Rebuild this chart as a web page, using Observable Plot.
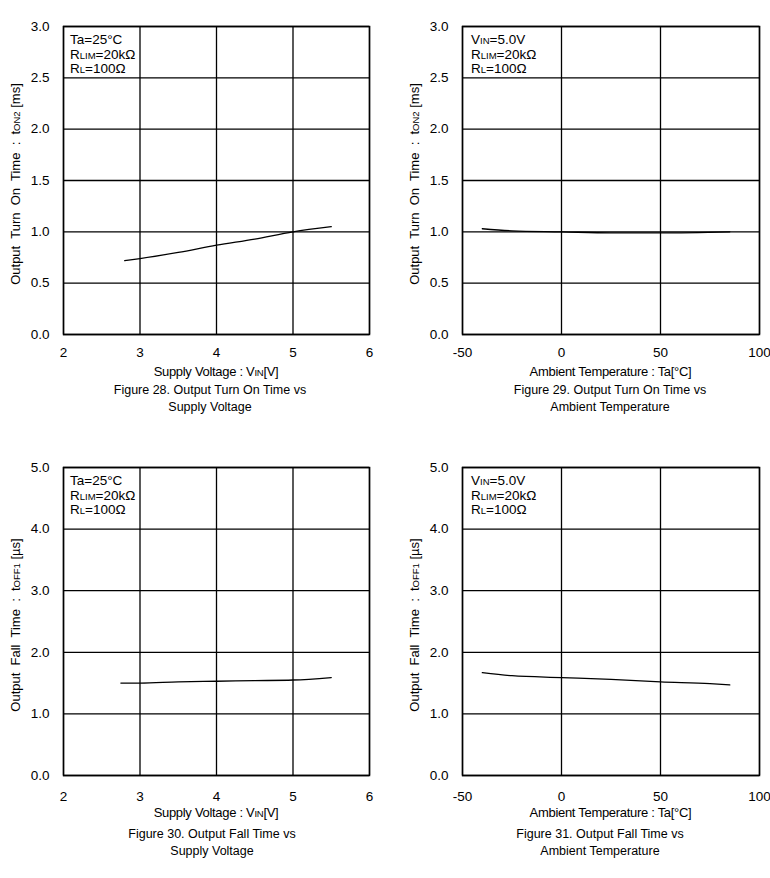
<!DOCTYPE html>
<html>
<head>
<meta charset="utf-8">
<script src="https://cdn.jsdelivr.net/npm/d3@7"></script>
<script src="https://cdn.jsdelivr.net/npm/@observablehq/plot@0.6"></script>
<style>
  body { margin: 0; background: #fff; font-family: "Liberation Sans", Arial, sans-serif; }
  #page { position: relative; width: 770px; height: 878px; overflow: hidden; }
  .panel { position: absolute; }
  .caption { position: absolute; text-align: center; font-size: 12.5px; line-height: 16.5px; color: #000; white-space: nowrap; }
</style>
</head>
<body>
<div id="page"></div>
<script>
// Turn-on time tON2 [ms] vs supply voltage (Ta=25°C)
const vinOn = [2.8, 3.0, 3.5, 4.0, 4.5, 5.0, 5.5];
const tOn2VsVin = [0.72, 0.74, 0.80, 0.87, 0.93, 1.00, 1.05];
// Turn-on time tON2 [ms] vs ambient temperature (VIN=5.0V)
const tempOn = [-40, -25, 0, 25, 50, 85];
const tOn2VsTemp = [1.03, 1.01, 1.00, 0.99, 0.99, 1.00];
// Fall time tOFF1 [µs] vs supply voltage (Ta=25°C)
const vinOff = [2.75, 3.0, 3.5, 4.0, 4.5, 5.0, 5.5];
const tOff1VsVin = [1.50, 1.50, 1.52, 1.53, 1.54, 1.55, 1.59];
// Fall time tOFF1 [µs] vs ambient temperature (VIN=5.0V)
const tempOff = [-40, -25, 0, 25, 50, 75, 85];
const tOff1VsTemp = [1.67, 1.62, 1.59, 1.56, 1.52, 1.49, 1.47];

// Axis ticks
const vinTicks = [2, 3, 4, 5, 6];
const tempTicks = [-50, 0, 50, 100];
const onTicks = [0, 0.5, 1.0, 1.5, 2.0, 2.5, 3.0];
const offTicks = [0, 1, 2, 3, 4, 5];

// Condition notes: [text, isSubscript]
const noteVinSweep = [
  [["Ta=25°C", false]],
  [["R", false], ["LIM", true], ["=20kΩ", false]],
  [["R", false], ["L", true], ["=100Ω", false]]
];
const noteTempSweep = [
  [["V", false], ["IN", true], ["=5.0V", false]],
  [["R", false], ["LIM", true], ["=20kΩ", false]],
  [["R", false], ["L", true], ["=100Ω", false]]
];
const labelVin = [["Supply Voltage : V", false], ["IN", true], ["[V]", false]];
const labelTemp = [["Ambient Temperature : Ta[°C]", false]];
const labelOn = [["Output  Turn  On  Time  :  t", false], ["ON2", true], [" [ms]", false]];
const labelOff = [["Output  Fall  Time  :  t", false], ["OFF1", true], [" [µs]", false]];

const FONT = "'Liberation Sans', Arial, sans-serif";
const page = document.getElementById("page");

function rich(textSel, parts, size, subSize) {
  parts.forEach(([t, sub]) => textSel.append("tspan").attr("font-size", sub ? subSize : size).text(t));
}

function panel(cfg) {
  const data = cfg.x.map((v, i) => ({x: v, y: cfg.y[i]}));
  const plotW = cfg.frameRight - cfg.frameLeft;
  const plotH = 308;
  const marginTop = cfg.marginTop;
  const marginBottom = 50;
  const plot = Plot.plot({
    width: cfg.width,
    height: marginTop + plotH + marginBottom,
    marginLeft: cfg.frameLeft,
    marginRight: cfg.width - cfg.frameRight,
    marginTop,
    marginBottom,
    style: {fontFamily: FONT, fontSize: "13.5px", color: "#000", background: "transparent"},
    x: {domain: cfg.xDomain},
    y: {domain: cfg.yDomain},
    marks: [
      Plot.gridX(cfg.xTicks, {stroke: "#000", strokeOpacity: 1, strokeWidth: 1.3}),
      Plot.gridY(cfg.yTicks, {stroke: "#000", strokeOpacity: 1, strokeWidth: 1.3}),
      Plot.frame({stroke: "#000", strokeWidth: 1.5}),
      Plot.axisX(cfg.xTicks, {tickSize: 0, tickPadding: cfg.xTickPad, label: null, tickFormat: d => String(d)}),
      Plot.axisY(cfg.yTicks, {tickSize: 0, tickPadding: 14, label: null, tickFormat: d3.format(".1f")}),
      Plot.line(data, {x: "x", y: "y", stroke: "#000", strokeWidth: 1.3, curve: "monotone-x"})
    ]
  });
  const svg = d3.select(plot);
  // condition note inside the frame
  cfg.note.forEach((line, i) => {
    const t = svg.append("text")
      .attr("x", cfg.frameLeft + cfg.noteDx)
      .attr("y", marginTop + 18 + i * 14.5)
      .attr("text-anchor", "start")
      .attr("font-family", FONT).attr("fill", "#000");
    rich(t, line, 13.5, 9.5);
  });
  // x-axis label
  const xl = svg.append("text")
    .attr("x", cfg.frameLeft + plotW / 2)
    .attr("y", marginTop + plotH + 42)
    .attr("text-anchor", "middle")
    .attr("font-family", FONT).attr("fill", "#000")
    .attr("letter-spacing", "-0.3px");
  rich(xl, cfg.xLabel, 13, 9.5);
  // y-axis label
  const yl = svg.append("text")
    .attr("transform", `translate(${cfg.yLabelX},${marginTop + plotH / 2 + 4}) rotate(-90)`)
    .attr("text-anchor", "middle")
    .attr("font-family", FONT).attr("fill", "#000");
  rich(yl, cfg.yLabel, 13, 9.5);

  const wrap = document.createElement("div");
  wrap.className = "panel";
  wrap.style.left = cfg.left + "px";
  wrap.style.top = cfg.top + "px";
  wrap.appendChild(plot);
  page.appendChild(wrap);

  const cap = document.createElement("div");
  cap.className = "caption";
  cap.style.left = (cfg.captionX - 150) + "px";
  cap.style.width = "300px";
  cap.style.top = cfg.captionTop + "px";
  cap.innerHTML = cfg.caption.join("<br>");
  page.appendChild(cap);
}

panel({
  x: vinOn, y: tOn2VsVin, xDomain: [2, 6], yDomain: [0, 3], xTicks: vinTicks, yTicks: onTicks,
  left: 0, top: 0, width: 385, frameLeft: 63, frameRight: 369, marginTop: 26, xTickPad: 13,
  note: noteVinSweep, noteDx: 7, xLabel: labelVin, yLabel: labelOn, yLabelX: 20,
  caption: ["Figure 28. Output Turn On Time vs", "Supply Voltage"], captionX: 210, captionTop: 382
});
panel({
  x: tempOn, y: tOn2VsTemp, xDomain: [-50, 100], yDomain: [0, 3], xTicks: tempTicks, yTicks: onTicks,
  left: 385, top: 0, width: 385, frameLeft: 77, frameRight: 374, marginTop: 26, xTickPad: 13,
  note: noteTempSweep, noteDx: 9, xLabel: labelTemp, yLabel: labelOn, yLabelX: 34,
  caption: ["Figure 29. Output Turn On Time vs", "Ambient Temperature"], captionX: 610, captionTop: 382
});
panel({
  x: vinOff, y: tOff1VsVin, xDomain: [2, 6], yDomain: [0, 5], xTicks: vinTicks, yTicks: offTicks,
  left: 0, top: 440, width: 385, frameLeft: 63, frameRight: 369, marginTop: 27, xTickPad: 16,
  note: noteVinSweep, noteDx: 7, xLabel: labelVin, yLabel: labelOff, yLabelX: 20,
  caption: ["Figure 30. Output Fall Time vs", "Supply Voltage"], captionX: 212, captionTop: 826
});
panel({
  x: tempOff, y: tOff1VsTemp, xDomain: [-50, 100], yDomain: [0, 5], xTicks: tempTicks, yTicks: offTicks,
  left: 385, top: 440, width: 385, frameLeft: 77, frameRight: 374, marginTop: 27, xTickPad: 16,
  note: noteTempSweep, noteDx: 9, xLabel: labelTemp, yLabel: labelOff, yLabelX: 34,
  caption: ["Figure 31. Output Fall Time vs", "Ambient Temperature"], captionX: 600, captionTop: 826
});
</script>
</body>
</html>
